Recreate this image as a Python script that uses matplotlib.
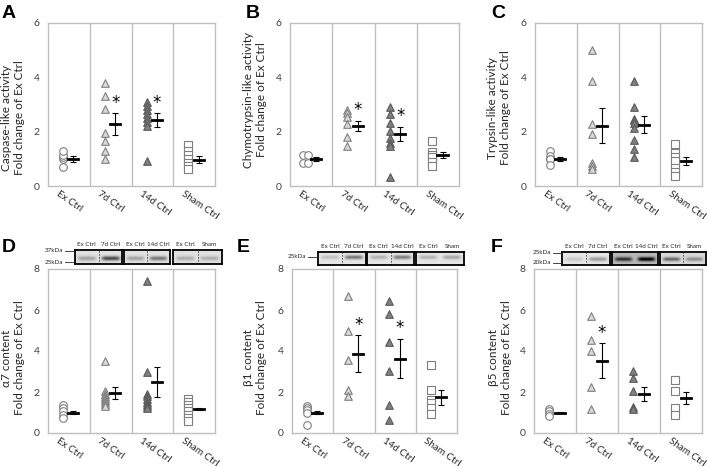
import numpy as np
import matplotlib.pyplot as plt

plt.rcParams['font.family'] = ['Lato', 'DejaVu Sans']

W, H = 707, 467

groups = ["Ex Ctrl", "7d Ctrl", "14d Ctrl", "Sham Ctrl"]

# --- data (fold change of Ex Ctrl) ---
A_ex = [0.7, 1.0, 1.05, 1.15, 1.3]
A_7d = [3.8, 3.3, 2.85, 1.95, 1.67, 1.27, 0.98]
A_14d = [3.1, 2.95, 2.8, 2.65, 2.5, 2.35, 2.2, 0.93]
A_sham = [1.5, 1.3, 1.15, 1.0, 0.85, 0.72, 0.62]
A_mean = [1.0, 2.28, 2.42, 0.97]
A_err = [0.1, 0.4, 0.25, 0.12]

B_ex = [0.85, 1.15, 0.85, 1.15]
B_7d = [2.79, 2.69, 2.55, 2.3, 1.81, 1.47]
B_14d = [2.89, 2.64, 2.33, 2.02, 1.75, 1.57, 1.48, 0.32]
B_sham = [1.65, 1.25, 1.15, 1.05, 0.9, 0.75]
B_mean = [1.0, 2.22, 1.91, 1.14]
B_err = [0.08, 0.19, 0.27, 0.1]

C_ex = [1.3, 1.1, 1.0, 0.98, 0.77]
C_7d = [4.99, 3.87, 2.28, 1.93, 0.83, 0.73, 0.61]
C_14d = [3.87, 2.91, 2.48, 2.42, 2.33, 2.15, 1.71, 1.35, 1.08]
C_sham = [1.54, 1.2, 1.08, 0.93, 0.65, 0.53, 0.37]
C_mean = [1.0, 2.22, 2.26, 0.93]
C_err = [0.07, 0.64, 0.31, 0.15]

D_ex = [1.35, 1.2, 1.05, 0.9, 0.75]
D_7d = [3.5, 2.05, 1.9, 1.8, 1.7, 1.6, 1.5, 1.4, 1.3]
D_14d = [7.4, 3.0, 1.9, 1.8, 1.65, 1.5, 1.4, 1.3, 1.2]
D_sham = [1.65, 1.5, 1.35, 1.2, 1.05, 0.9, 0.75, 0.6]
D_mean = [1.0, 1.95, 2.5, 1.15]
D_err = [0.05, 0.27, 0.73, 0.05]

E_ex = [1.3, 1.22, 1.12, 0.97, 0.38]
E_7d = [6.7, 4.96, 3.58, 2.11, 1.82]
E_14d = [6.42, 5.82, 4.42, 3.04, 1.35, 0.62]
E_sham = [3.3, 2.08, 1.6, 1.46, 1.22, 0.94]
E_mean = [1.0, 3.87, 3.63, 1.74]
E_err = [0.08, 0.9, 0.95, 0.36]

F_ex = [1.15, 1.05, 0.95, 0.85]
F_7d = [5.72, 4.55, 4.0, 2.26, 1.15]
F_14d = [3.04, 2.68, 2.07, 1.25, 1.19]
F_sham = [2.6, 2.03, 1.22, 0.9]
F_mean = [1.0, 3.52, 1.91, 1.72]
F_err = [0.03, 0.85, 0.33, 0.3]

# band darkness per blot box (control lane, treated lane)
D_bands = [(0.25, 0.6), (0.25, 0.42), (0.2, 0.2)]
E_bands = [(0.15, 0.45), (0.2, 0.42), (0.2, 0.25)]
F_bands = [(0.12, 0.3), (0.55, 0.75), (0.45, 0.3)]

edge = '#bfbfbf'
styles = [
    dict(marker='o', facecolor='white', edgecolor='#7f7f7f'),
    dict(marker='^', facecolor='#d9d9d9', edgecolor='#7f7f7f'),
    dict(marker='^', facecolor='#808080', edgecolor='#595959'),
    dict(marker='s', facecolor='white', edgecolor='#7f7f7f'),
]

fig = plt.figure(figsize=(W / 100, H / 100), dpi=100)


def rect(x0, y0, x1, y1):
    return [x0 / W, 1 - y1 / H, (x1 - x0) / W, (y1 - y0) / H]


def panel(box, series, means, errs, stars, ymax, ylabel, lab_xy, letter, let_xy, jitter=None):
    ax = fig.add_axes(rect(*box))
    ax.set_xlim(0, 4)
    ax.set_ylim(0, ymax)
    for s in ax.spines.values():
        s.set_color(edge)
        s.set_linewidth(1)
    for i in (1, 2, 3):
        ax.axvline(i, color=edge, lw=1)
    ax.set_yticks(range(0, ymax + 1, 2))
    ax.set_xticks([])
    ax.tick_params(axis='y', length=0, labelsize=7.5, labelcolor='#404040', pad=6)

    for i, vals in enumerate(series):
        c = i + 0.5
        xs = np.full(len(vals), c - 0.14)
        if jitter is not None and i == 0:
            xs = c + np.array(jitter)
        ax.scatter(xs, vals, s=30, linewidths=0.8, zorder=3, **styles[i])
        xm = c + 0.11
        ax.errorbar(xm, means[i], yerr=errs[i], fmt='none', ecolor='black',
                    elinewidth=0.8, capsize=2.5, capthick=0.8, zorder=4)
        ax.plot([xm - 0.12, xm + 0.12], [means[i], means[i]], color='black', lw=2, zorder=4)
        if stars[i]:
            ax.text(xm, means[i] + errs[i] + ymax * 0.01, '*', ha='center', va='bottom',
                    fontsize=12, color='black', family='DejaVu Sans')
        ax.annotate(groups[i], xy=(c - 0.22, 0), xycoords=('data', 'axes fraction'),
                    xytext=(0, -2.5), textcoords='offset points', rotation=-35,
                    rotation_mode='anchor', ha='left', va='top', fontsize=7.1,
                    color='#262626')

    fig.text(lab_xy[0] / W, 1 - lab_xy[1] / H, ylabel, rotation=90, ha='center',
             va='center', multialignment='center', fontsize=8.5, color='#262626')
    fig.text(let_xy[0] / W, 1 - let_xy[1] / H, letter, fontsize=14, fontweight='bold',
             family='Liberation Sans', ha='left', va='center')
    return ax


def blot(boxes, bands, band_y, top, bottom, names, dashed, bgs):
    for (x0, x1), (b1, b2), nm, dsh, bg in zip(boxes, bands, names, dashed, bgs):
        bx = fig.add_axes(rect(x0, top, x1, bottom))
        yy, xx = np.mgrid[0:1:40j, 0:2:120j]
        img = np.full(xx.shape, bg)
        for k, b in enumerate((b1, b2)):
            env = np.exp(-((xx - (k + 0.5)) / 0.38) ** 6)
            img -= b * env * np.exp(-((yy - band_y) / 0.16) ** 2)
        bx.imshow(img, cmap='gray', vmin=0, vmax=1, extent=(0, 2, 0, 1),
                  origin='lower', aspect='auto', interpolation='bilinear')
        if dsh:
            bx.axvline(1, color='#404040', lw=0.6, ls=(0, (2, 1.5)))
        bx.set_xticks([])
        bx.set_yticks([])
        for s in bx.spines.values():
            s.set_linewidth(1.3)
        for k in range(2):
            fig.text((x0 + (x1 - x0) * (0.25 + 0.5 * k)) / W, 1 - (top - 5) / H, nm[k],
                     ha='center', va='center', fontsize=4.5, color='#262626')


def kda(label, x0, x1, y):
    fig.text(x0 / W, 1 - y / H, label, ha='left', va='center', fontsize=4.5, color='#262626')
    fig.add_artist(plt.Line2D([(x1 - 9) / W, (x1 - 1) / W], [1 - y / H, 1 - y / H],
                              color='#262626', lw=0.6))


panel((48, 23, 215, 186), [A_ex, A_7d, A_14d, A_sham], A_mean, A_err,
      [0, 1, 1, 0], 6, "Caspase-like activity\nFold change of Ex Ctrl", (13, 118), 'A', (2, 13))
panel((290, 23, 459, 186), [B_ex, B_7d, B_14d, B_sham], B_mean, B_err,
      [0, 1, 1, 0], 6, "Chymotrypsin-like activity\nFold change of Ex Ctrl", (255, 100), 'B', (246, 13),
      jitter=[-0.2, -0.2, -0.07, -0.07])
panel((535, 23, 702, 186), [C_ex, C_7d, C_14d, C_sham], C_mean, C_err,
      [0, 0, 0, 0], 6, "Trypsin-like activity\nFold change of Ex Ctrl", (499, 108), 'C', (491, 13))
panel((48, 269, 215, 433), [D_ex, D_7d, D_14d, D_sham], D_mean, D_err,
      [0, 0, 0, 0], 8, "\u03b17 content\nFold change of Ex Ctrl", (13, 358), 'D', (2, 248))
panel((292, 269, 457, 433), [E_ex, E_7d, E_14d, E_sham], E_mean, E_err,
      [0, 1, 1, 0], 8, "\u03b21 content\nFold change of Ex Ctrl", (255, 358), 'E', (237, 248))
panel((534, 269, 702, 433), [F_ex, F_7d, F_14d, F_sham], F_mean, F_err,
      [0, 1, 0, 0], 8, "\u03b25 content\nFold change of Ex Ctrl", (500, 358), 'F', (491, 248))

names = [("Ex Ctrl", "7d Ctrl"), ("Ex Ctrl", "14d Ctrl"), ("Ex Ctrl", "Sham")]
blot([(75, 122), (124, 170), (173, 222)], D_bands, 0.4, 250, 264, names,
     [1, 1, 1], [0.88, 0.88, 0.88])
kda("37kDa", 45, 74, 251)
kda("25kDa", 45, 74, 262)
blot([(318, 366), (367, 414), (416, 464)], E_bands, 0.6, 252, 265, names,
     [1, 1, 0], [0.9, 0.9, 0.9])
kda("25kDa", 288, 317, 257)
blot([(562, 610), (612, 658), (660, 706)], F_bands, 0.45, 252, 265, names,
     [1, 0, 1], [0.9, 0.72, 0.85])
kda("25kDa", 533, 562, 253)
kda("20kDa", 533, 562, 263)

fig.savefig('out.png', dpi=100)
